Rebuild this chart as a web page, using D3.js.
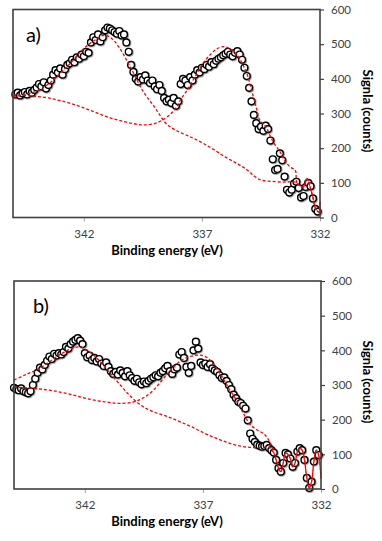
<!DOCTYPE html>
<html><head><meta charset="utf-8">
<script src="https://cdn.jsdelivr.net/npm/d3@7/dist/d3.min.js"></script>
<style>
html,body{margin:0;padding:0;background:#fff;}
svg{display:block;}
text{font-family:Lato,"Open Sans",sans-serif;}
</style></head>
<body>
<svg id="chart" width="382" height="541"></svg>
<script>
// ---------- DATA ----------
const xTicks = [342, 337, 332];
const yTicks = [0, 100, 200, 300, 400, 500, 600];
const xLabel = "Binding energy (eV)";
const yLabel = "Signla (counts)";
const panelLabels = ["a)", "b)"];

// Panel a) measured points
const energyA = [344.9,344.8,344.7,344.6,344.5,344.4,344.3,344.2,344.1,344.0,
343.9,343.8,343.7,343.6,343.5,343.4,343.3,343.2,343.1,343.0,
342.9,342.8,342.7,342.6,342.5,342.4,342.3,342.2,342.1,342.0,
341.9,341.8,341.7,341.6,341.5,341.4,341.3,341.2,341.1,341.0,
340.9,340.8,340.7,340.6,340.5,340.4,340.3,340.2,340.1,340.0,
339.9,339.8,339.7,339.6,339.5,339.4,339.3,339.2,339.1,339.0,
338.9,338.8,338.7,338.6,338.5,338.4,338.3,338.2,338.1,338.0,
337.9,337.8,337.7,337.6,337.5,337.4,337.3,337.2,337.1,337.0,
336.9,336.8,336.7,336.6,336.5,336.4,336.3,336.2,336.1,336.0,
335.9,335.8,335.7,335.6,335.5,335.4,335.3,335.2,335.1,335.0,
334.9,334.8,334.7,334.6,334.5,334.4,334.3,334.2,334.1,334.0,
333.9,333.8,333.7,333.6,333.5,333.4,333.3,333.2,333.1,333.0,
332.9,332.8,332.7,332.6,332.5,332.4,332.3,332.2,332.1];
const signalA = [355,360,352,358,362,355,365,360,368,375,
385,378,390,372,382,395,412,425,418,430,
412,428,440,445,455,448,462,458,470,465,
478,475,505,520,512,528,508,520,540,548,
545,540,535,530,538,525,528,505,478,440,
420,400,392,405,398,410,395,388,395,378,
370,382,365,345,335,340,330,345,322,335,
385,400,395,382,405,395,412,425,418,432,
428,440,435,448,442,452,458,462,468,472,
478,470,465,475,480,470,455,432,408,374,
335,296,272,255,262,250,265,255,222,168,
137,140,185,165,118,80,72,80,98,103,
85,58,62,88,100,90,55,25,17];

// Panel a) fitted components (dashed)
const fitA1E = [345.0,344.5,344.0,343.5,343.0,342.5,342.0,341.5,341.1,340.8,340.5,340.0,339.5,339.0,338.5,338.0,337.5,337.0,336.5,336.0,335.5,335.1,334.8,334.5,334.0,333.5,333.1,332.98,332.85,332.7,332.55,332.45,332.3,332.2,332.1,332.02,332.0];
const fitA1V = [348,355,365,385,416,450,488,513,526,515,490,430,365,318,270,248,233,216,196,174,155,138,120,108,104,102,103,100,92,88,112,95,58,28,18,15,45];
const fitA2E = [345.0,344.5,344.0,343.5,343.0,342.5,342.0,341.5,341.0,340.5,340.0,339.5,339.0,338.7,338.4,338.1,337.9,337.6,337.3,337.0,336.7,336.4,336.1,335.8,335.5,335.3,335.1,334.9,334.7,334.55,334.3,334.0,333.7,333.5,333.25,333.05,332.98,332.85,332.7,332.55,332.45,332.3,332.2,332.1,332.02,332.0];
const fitA2V = [353,352,349,345,337,328,316,303,290,280,272,267,271,280,294,316,340,370,405,440,466,485,493,486,468,445,416,368,318,281,262,220,190,165,145,137,100,92,88,112,95,58,28,18,15,45];

// Panel b) measured points
const energyB = [345.0,344.9,344.8,344.7,344.6,344.5,344.4,344.3,344.2,344.1,344.0,
343.9,343.8,343.7,343.6,343.5,343.4,343.3,343.2,343.1,343.0,
342.9,342.8,342.7,342.6,342.5,342.4,342.3,342.2,342.1,342.0,
341.9,341.8,341.7,341.6,341.5,341.4,341.3,341.2,341.1,341.0,
340.9,340.8,340.7,340.6,340.5,340.4,340.3,340.2,340.1,340.0,
339.9,339.8,339.7,339.6,339.5,339.4,339.3,339.2,339.1,339.0,
338.9,338.8,338.7,338.6,338.5,338.4,338.3,338.2,338.1,338.0,
337.9,337.8,337.7,337.6,337.5,337.4,337.3,337.2,337.1,337.0,
336.9,336.8,336.7,336.6,336.5,336.4,336.3,336.2,336.1,336.0,
335.9,335.8,335.7,335.6,335.5,335.4,335.3,335.2,335.1,335.0,
334.9,334.8,334.7,334.6,334.5,334.4,334.3,334.2,334.1,334.0,
333.9,333.8,333.7,333.6,333.5,333.4,333.3,333.2,333.1,333.0,
332.9,332.8,332.7,332.6,332.5,332.4,332.3,332.2,332.1];
const signalB = [292,288,285,290,282,279,276,282,300,318,335,
350,345,358,370,382,375,390,385,392,388,
395,410,405,418,425,430,435,428,418,392,
380,385,372,378,368,375,362,355,365,352,
340,332,338,330,342,335,325,340,328,320,
312,318,308,302,310,305,312,318,322,328,
325,335,340,348,355,340,332,345,350,388,
395,378,352,335,355,400,425,405,365,358,
362,352,360,348,342,338,328,320,322,312,
300,288,272,262,252,248,240,232,198,160,
145,136,128,125,122,124,127,118,112,105,
84,60,50,75,104,100,88,64,75,108,
118,112,84,32,3,21,79,112,98];

// Panel b) fitted components (dashed)
const fitB1E = [345.0,344.5,344.0,343.5,343.0,342.6,342.2,341.9,341.5,341.0,340.5,340.0,339.5,339.0,338.5,338.0,337.5,337.0,336.5,336.0,335.5,335.0,334.5,334.2,334.1,334.0,333.9,333.8,333.7,333.6,333.5,333.4,333.3,333.2,333.1,333.0,332.9,332.8,332.7,332.6,332.5,332.4,332.3,332.2,332.1,332.0];
const fitB1V = [314,330,345,367,390,404,410,400,378,340,300,263,236,220,209,195,180,163,148,135,125,120,120,120,112,105,84,60,50,75,104,100,88,64,75,108,118,112,84,32,3,21,79,112,98,30];
const fitB2E = [345.0,344.5,344.0,343.5,343.0,342.5,342.0,341.5,341.0,340.5,340.0,339.7,339.4,339.1,338.8,338.5,338.2,337.9,337.5,337.1,336.8,336.5,336.2,335.9,335.6,335.3,335.0,334.7,334.4,334.15,334.0,333.9,333.8,333.7,333.6,333.5,333.4,333.3,333.2,333.1,333.0,332.9,332.8,332.7,332.6,332.5,332.4,332.3,332.2,332.1,332.0];
const fitB2V = [294,292,289,285,279,271,262,255,250,247,250,257,268,285,308,332,355,372,383,386,378,355,325,290,258,220,186,170,158,133,105,84,60,50,75,104,100,88,64,75,108,118,112,84,32,3,21,79,112,98,30];

// ---------- DRAW ----------
const svg = d3.select("#chart");
const defs = svg.append("defs");
const f = defs.append("filter").attr("id","shadow").attr("x","-50%").attr("y","-50%").attr("width","200%").attr("height","200%");
f.append("feDropShadow").attr("dx",0.8).attr("dy",0.8).attr("stdDeviation",0.7)
  .attr("flood-color","#000").attr("flood-opacity",0.45);

const panels = [
  {box:{l:13, r:320, t:9.5, b:217.5}, E:energyA, V:signalA, fits:[[fitA1E,fitA1V],[fitA2E,fitA2V]], label:panelLabels[0], lx:26, ly:42, yc:111},
  {box:{l:14, r:321, t:281, b:489}, E:energyB, V:signalB, fits:[[fitB1E,fitB1V],[fitB2E,fitB2V]], label:panelLabels[1], lx:33, ly:313, yc:382}
];

panels.forEach(p => {
  const {l, r, t, b} = p.box;
  const x = d3.scaleLinear().domain([345, 332]).range([l, r]);
  const y = d3.scaleLinear().domain([0, 600]).range([b, t]);
  const g = svg.append("g");

  // x axis ticks
  const xa = g.append("g").attr("transform", `translate(0,${b})`)
    .call(d3.axisBottom(x).tickValues(xTicks).tickSize(4).tickPadding(8).tickFormat(d3.format("d")));
  xa.select(".domain").remove();
  xa.selectAll("line").attr("stroke", "#a6a6a6");
  xa.selectAll("text").attr("font-size", 11.5).attr("fill", "#404040")
    .attr("font-family", "Lato, 'Open Sans', sans-serif");

  // y axis on the right
  const ya = g.append("g").attr("transform", `translate(${r},0)`)
    .call(d3.axisRight(y).tickValues(yTicks).tickSize(4).tickPadding(7));
  ya.select(".domain").remove();
  ya.selectAll("line").attr("stroke", "#404040").attr("stroke-width", 1.2);
  ya.selectAll("text").attr("font-size", 11.5).attr("fill", "#404040")
    .attr("font-family", "Lato, 'Open Sans', sans-serif");

  // data points
  const pts = p.E.map((e, i) => [e, p.V[i]]);
  g.append("g").attr("filter", "url(#shadow)")
    .selectAll("circle").data(pts).join("circle")
    .attr("cx", d => x(d[0])).attr("cy", d => y(d[1])).attr("r", 3.4)
    .attr("fill", "#fff").attr("stroke", "#000").attr("stroke-width", 1.4);

  // fitted dashed curves
  const line = d3.line().x(d => x(d[0])).y(d => y(d[1])).curve(d3.curveCatmullRom.alpha(0.5));
  p.fits.forEach(([fe, fv]) => {
    g.append("path").datum(fe.map((e, i) => [e, fv[i]]))
      .attr("d", line).attr("fill", "none").attr("stroke", "#ff0000")
      .attr("stroke-width", 1.3).attr("stroke-dasharray", "3,2");
  });

  // frame
  g.append("rect").attr("x", l).attr("y", t).attr("width", r - l).attr("height", b - t)
    .attr("fill", "none").attr("stroke", "#404040").attr("stroke-width", 1.6);

  // panel label
  g.append("text").attr("x", p.lx).attr("y", p.ly).attr("font-size", 20)
    .attr("fill", "#000").text(p.label);

  // axis titles
  g.append("text").attr("x", 167).attr("y", b + 37)
    .attr("text-anchor", "middle").attr("font-size", 13).attr("font-weight", "bold")
    .attr("fill", "#000").text(xLabel);
  g.append("text").attr("transform", `translate(363,${p.yc}) rotate(90)`)
    .attr("text-anchor", "middle").attr("font-size", 13).attr("font-weight", "bold")
    .attr("fill", "#000").text(yLabel);
});
</script>
</body></html>
